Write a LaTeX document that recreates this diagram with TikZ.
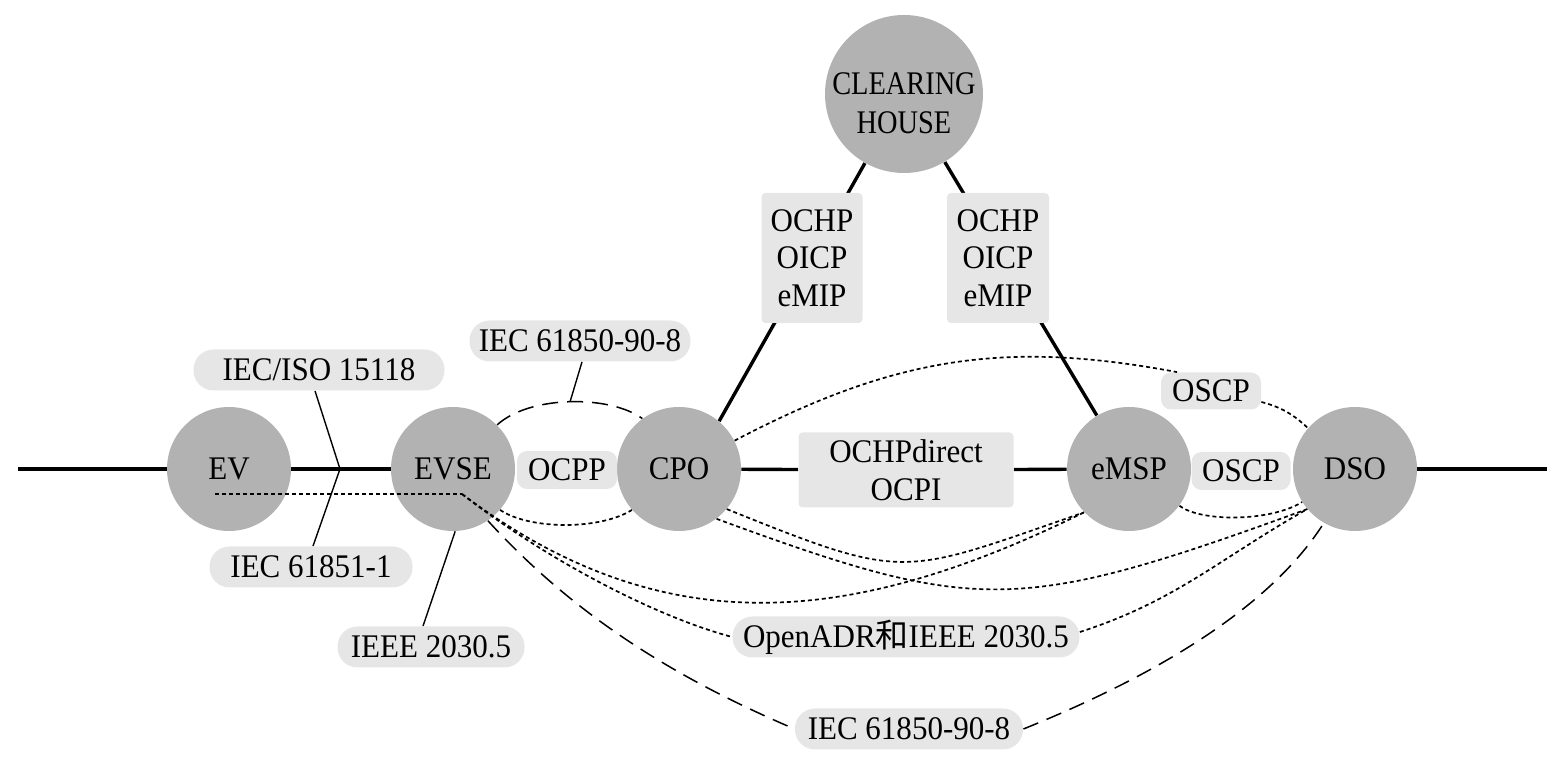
\documentclass[tikz,border=0pt]{standalone}
\usepackage{fontspec}
\setmainfont{Liberation Serif}[FakeStretch=0.94]
\newfontfamily\condfont{Liberation Serif}[FakeStretch=0.86]
\newfontfamily\cjk{Noto Sans CJK SC}
\usetikzlibrary{backgrounds}
\definecolor{nodegray}{RGB}{178,178,178}
\definecolor{labelgray}{RGB}{230,230,230}
\newcommand\dfont{\fontsize{16.5pt}{18.75pt}\selectfont}
\begin{document}
\begin{tikzpicture}[x=0.5pt,y=-0.5pt,
  ent/.style={circle, fill=nodegray, inner sep=0pt, minimum size=62pt, font=\dfont, align=center},
  pill/.style={rectangle, rounded corners=10pt, fill=labelgray, inner sep=0pt, minimum height=20.5pt, font=\dfont},
  tag/.style={rectangle, rounded corners=5pt, fill=labelgray, inner sep=0pt, minimum height=19pt, font=\dfont},
  pbox/.style={rectangle, rounded corners=2pt, fill=labelgray, inner sep=0pt, align=center, font=\dfont},
  thickline/.style={line width=1.7pt},
  thinline/.style={line width=0.7pt},
  dotline/.style={line width=0.85pt, dash pattern=on 2pt off 1.5pt},
  longdash/.style={line width=0.75pt, dash pattern=on 8pt off 4.5pt}]
\useasboundingbox (0,0) rectangle (1565,758);
% entities
\node[ent] (EV) at (229,469) {EV};
\node[ent] (EVSE) at (453,469) {EVSE};
\node[ent] (CPO) at (679,469) {CPO};
\node[ent] (eMSP) at (1129,469) {eMSP};
\node[ent] (DSO) at (1355,469) {DSO};
\node[ent, minimum size=79pt] (CH) at (904,94) {};
\node[font=\dfont\condfont, align=center, inner sep=0pt] (CHtext) at (904,103) {CLEARING\\[0.5pt]HOUSE};
% labels
\node[pill, minimum width=125.5pt] (ISO) at (319,370) {IEC/ISO 15118};
\node[pill, minimum width=101.5pt] (IEC61851) at (311,567) {IEC 61851-1};
\node[pill, minimum width=93.5pt] (IEEE) at (431,647) {IEEE 2030.5};
\node[pill, minimum width=110.5pt] (IECtop) at (580,341) {IEC 61850-90-8};
\node[tag, minimum width=50pt] (OCPP) at (567,470) {OCPP};
\node[pbox, minimum width=50.5pt, minimum height=65pt] (OCHPa) at (812,258) {OCHP\\OICP\\eMIP};
\node[pbox, minimum width=51pt, minimum height=65pt] (OCHPb) at (998,258) {OCHP\\OICP\\eMIP};
\node[pbox, minimum width=107.5pt, minimum height=37.5pt] (OCHPd) at (906,470) {OCHPdirect\\OCPI};
\node[tag, minimum width=50pt, minimum height=18.5pt] (OSCPa) at (1211,391) {OSCP};
\node[tag, minimum width=49.5pt] (OSCPb) at (1241,471) {OSCP};
\node[pill, minimum width=173.5pt] (OpenADR) at (906,637) {OpenADR{\cjk 和}IEEE 2030.5};
\node[pill, minimum width=114pt] (IECbot) at (909,729) {IEC 61850-90-8};
% free coordinates
\coordinate (Lend) at (18,469);
\coordinate (Rend) at (1547,469);
\coordinate (J) at (340,469);
\coordinate (apex) at (570,402);
\coordinate (evp) at (215,494);
\coordinate (evsep) at (462,494);
% solid connectors behind
\begin{scope}[on background layer]
\draw[thickline] (Lend) -- (EV);
\draw[thickline] (EV) -- (EVSE);
\draw[thickline] (CPO) -- (OCHPd);
\draw[thickline] (OCHPd) -- (eMSP);
\draw[thickline] (DSO) -- (Rend);
\draw[thickline] (CPO.50) -- (CH);
\draw[thickline] (CH) -- (eMSP.121);
\draw[thinline] ([xshift=-2pt]ISO.south) -- (J) -- ([xshift=1pt]IEC61851.north);
\draw[thinline] (EVSE.-88) -- ([xshift=-4pt]IEEE.north);
\end{scope}
% label line to upper dashed arc
\draw[thinline] ([xshift=1pt]IECtop.south) -- (apex);
% dashed / dotted connectors
\draw[longdash] (EVSE.45) .. controls (530,395) and (610,395) .. (CPO.126);
\draw[dotline] (EVSE.-41) .. controls (530,530) and (600,530) .. (CPO.-139);
\draw[dotline] (evp) -- (evsep);
\draw[dotline] (evsep) .. controls (662,644) and (849,628) .. (eMSP.-136);
\draw[dotline] (evsep) .. controls (540,555) and (650,615) .. (OpenADR.west);
\draw[dotline] (CPO.-40) .. controls (908,582) and (900,576) .. (eMSP.-136);
\draw[dotline] (CPO.-53) .. controls (976,614) and (1017,615) .. (DSO.-140);
\draw[dotline] ([yshift=2.5pt]OpenADR.east) .. controls (1176,601) and (1219,559) .. (DSO.-140);
\draw[dotline] (eMSP.-36) .. controls (1200,522) and (1270,522) .. (DSO.-148);
\draw[dotline] (CPO.27) .. controls (899,354) and (1011,341) .. ([xshift=-17pt]OSCPa.north);
\draw[dotline] ([yshift=-5.5pt]OSCPa.east) .. controls (1285,408) and (1297,418) .. (DSO.139);
\draw[longdash] (EVSE.-56) .. controls (575,616) and (675,678) .. (IECbot.west);
\draw[longdash] (IECbot.east) .. controls (1135,684) and (1265,616) .. (DSO.-120);
\end{tikzpicture}
\end{document}
